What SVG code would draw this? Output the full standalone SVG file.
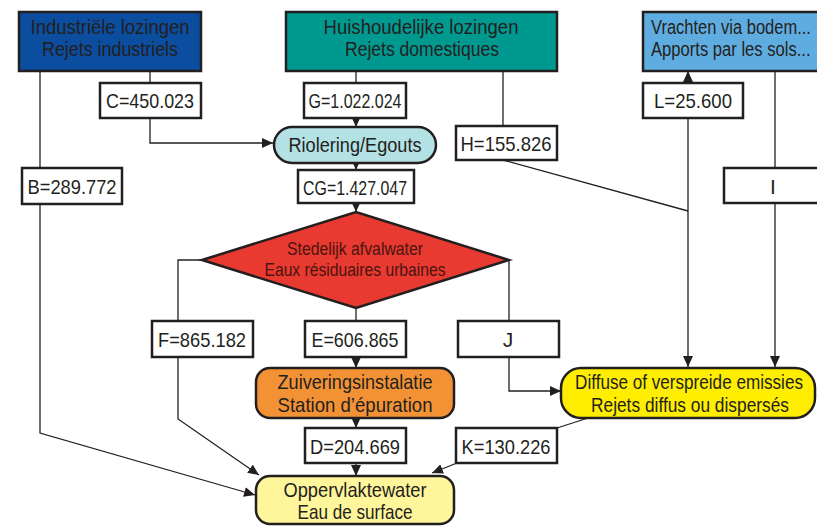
<svg xmlns="http://www.w3.org/2000/svg" width="817" height="526" viewBox="0 0 817 526">
<defs>
<marker id="ah" markerUnits="userSpaceOnUse" markerWidth="12" markerHeight="10" refX="11" refY="5" orient="auto">
<path d="M0,0 L11,5 L0,10 Z" fill="#231f20"/>
</marker>
<style>
.n{stroke:#231f20;stroke-width:2.5}
.lb{fill:#fff;stroke:#231f20;stroke-width:2.5}
.t{font-family:"Liberation Sans Narrow","Liberation Sans",Arial,sans-serif;font-size:21px;fill:#231f20;text-anchor:middle}
.tl{text-anchor:start}
.tr{fill:#4a1410}
.c{fill:none;stroke:#231f20;stroke-width:1.3}
</style>
</defs>
<rect width="817" height="526" fill="#fff"/>
<g id="connectors">
<path class="c" d="M150,71 V83"/>
<path class="c" d="M150,118 V143 H273" marker-end="url(#ah)"/>
<path class="c" d="M40,71 V168"/>
<path class="c" d="M40,204 V433 L255,495" marker-end="url(#ah)"/>
<path class="c" d="M356,71 V83"/>
<path class="c" d="M356,118 V127" marker-end="url(#ah)"/>
<path class="c" d="M356,163 V170" marker-end="url(#ah)"/>
<path class="c" d="M356,203 V212" marker-end="url(#ah)"/>
<path class="c" d="M503,71 V126"/>
<path class="c" d="M503,160 L688,211"/>
<path class="c" d="M688,83 V71" marker-end="url(#ah)"/>
<path class="c" d="M688,118 V367" marker-end="url(#ah)"/>
<path class="c" d="M775,71 V168"/>
<path class="c" d="M775,203 V367" marker-end="url(#ah)"/>
<path class="c" d="M202,260 H178 V321"/>
<path class="c" d="M178,357 V419 L259,475" marker-end="url(#ah)"/>
<path class="c" d="M356,308 V321"/>
<path class="c" d="M356,357 V368" marker-end="url(#ah)"/>
<path class="c" d="M356,418 V428" marker-end="url(#ah)"/>
<path class="c" d="M356,463 V476" marker-end="url(#ah)"/>
<path class="c" d="M509,260 V321"/>
<path class="c" d="M509,357 V391 H561" marker-end="url(#ah)"/>
<path class="c" d="M588,418 L557,428"/>
<path class="c" d="M457,463 L432,473" marker-end="url(#ah)"/>
</g>
<g id="industrieel">
<rect class="n" x="19" y="12" width="182" height="59" fill="#0b4d9f"/>
<text class="t" x="110" y="34" textLength="159" lengthAdjust="spacingAndGlyphs">Industriële lozingen</text>
<text class="t" x="110" y="56" textLength="136" lengthAdjust="spacingAndGlyphs">Rejets industriels</text>
</g>
<g id="huishoudelijk">
<rect class="n" x="286" y="12" width="271" height="59" fill="#009990"/>
<text class="t" x="421" y="34" textLength="195" lengthAdjust="spacingAndGlyphs">Huishoudelijke lozingen</text>
<text class="t" x="422" y="56" textLength="154" lengthAdjust="spacingAndGlyphs">Rejets domestiques</text>
</g>
<g id="vrachten">
<rect class="n" x="643" y="12" width="190" height="59" fill="#5fade0"/>
<text class="t tl" transform="translate(651,34) scale(0.784,1)" x="0" y="0" textLength="204" lengthAdjust="spacingAndGlyphs">Vrachten via bodem...</text>
<text class="t tl" transform="translate(651,56) scale(0.79,1)" x="0" y="0" textLength="202" lengthAdjust="spacingAndGlyphs">Apports par les sols...</text>
</g>
<g id="C">
<rect class="lb" x="100" y="83" width="101" height="35"/>
<text class="t" x="150" y="108" textLength="88" lengthAdjust="spacingAndGlyphs">C=450.023</text>
</g>
<g id="G">
<rect class="lb" x="304" y="83" width="102" height="35"/>
<text class="t" x="355" y="108" textLength="93" lengthAdjust="spacingAndGlyphs">G=1.022.024</text>
</g>
<g id="L">
<rect class="lb" x="643" y="83" width="100" height="35"/>
<text class="t" x="693" y="108" textLength="78" lengthAdjust="spacingAndGlyphs">L=25.600</text>
</g>
<g id="riolering">
<rect class="n" x="274" y="127" width="162" height="36" rx="18" fill="#b4e1e3"/>
<text class="t" x="355" y="152" textLength="133" lengthAdjust="spacingAndGlyphs">Riolering/Egouts</text>
</g>
<g id="H">
<rect class="lb" x="456" y="126" width="101" height="34"/>
<text class="t" x="506" y="151" textLength="91" lengthAdjust="spacingAndGlyphs">H=155.826</text>
</g>
<g id="B">
<rect class="lb" x="22" y="168" width="100" height="36"/>
<text class="t" x="72" y="194" textLength="89" lengthAdjust="spacingAndGlyphs">B=289.772</text>
</g>
<g id="CG">
<rect class="lb" x="298" y="170" width="116" height="33"/>
<text class="t" x="355" y="195" textLength="104" lengthAdjust="spacingAndGlyphs">CG=1.427.047</text>
</g>
<g id="I">
<rect class="lb" x="724" y="168" width="110" height="35"/>
<text class="t" x="773" y="194">I</text>
</g>
<g id="stedelijk">
<path class="n" d="M202,260 L356,212 L509,260 L356,308 Z" fill="#e83a30"/>
<text class="t tr" x="355" y="255" textLength="136" lengthAdjust="spacingAndGlyphs" style="font-size:19px">Stedelijk afvalwater</text>
<text class="t tr" x="355" y="276" textLength="181" lengthAdjust="spacingAndGlyphs" style="font-size:19px">Eaux résiduaires urbaines</text>
</g>
<g id="F">
<rect class="lb" x="152" y="321" width="101" height="36"/>
<text class="t" x="202" y="347" textLength="88" lengthAdjust="spacingAndGlyphs">F=865.182</text>
</g>
<g id="E">
<rect class="lb" x="305" y="321" width="101" height="36"/>
<text class="t" x="355" y="347" textLength="87" lengthAdjust="spacingAndGlyphs">E=606.865</text>
</g>
<g id="J">
<rect class="lb" x="458" y="321" width="101" height="36"/>
<text class="t" x="508" y="347">J</text>
</g>
<g id="zuivering">
<rect class="n" x="256" y="368" width="198" height="50" rx="14" fill="#f39235"/>
<text class="t" x="355" y="389" textLength="155" lengthAdjust="spacingAndGlyphs">Zuiveringsinstalatie</text>
<text class="t" x="355" y="412" textLength="155" lengthAdjust="spacingAndGlyphs">Station d’épuration</text>
</g>
<g id="diffuus">
<rect class="n" x="561" y="368" width="254" height="50" rx="20" fill="#ffee00"/>
<text class="t" transform="translate(689,389) scale(0.814,1)" x="0" y="0" textLength="280" lengthAdjust="spacingAndGlyphs">Diffuse of verspreide emissies</text>
<text class="t" transform="translate(690,412) scale(0.825,1)" x="0" y="0" textLength="240" lengthAdjust="spacingAndGlyphs">Rejets diffus ou dispersés</text>
</g>
<g id="D">
<rect class="lb" x="305" y="428" width="101" height="35"/>
<text class="t" x="355" y="454" textLength="90" lengthAdjust="spacingAndGlyphs">D=204.669</text>
</g>
<g id="K">
<rect class="lb" x="456" y="428" width="101" height="35"/>
<text class="t" x="506" y="454" textLength="89" lengthAdjust="spacingAndGlyphs">K=130.226</text>
</g>
<g id="oppervlaktewater">
<rect class="n" x="256" y="476" width="198" height="48" rx="14" fill="#fff59b"/>
<text class="t" x="355" y="497" textLength="143" lengthAdjust="spacingAndGlyphs">Oppervlaktewater</text>
<text class="t" x="355" y="519" textLength="115" lengthAdjust="spacingAndGlyphs">Eau de surface</text>
</g>
</svg>
